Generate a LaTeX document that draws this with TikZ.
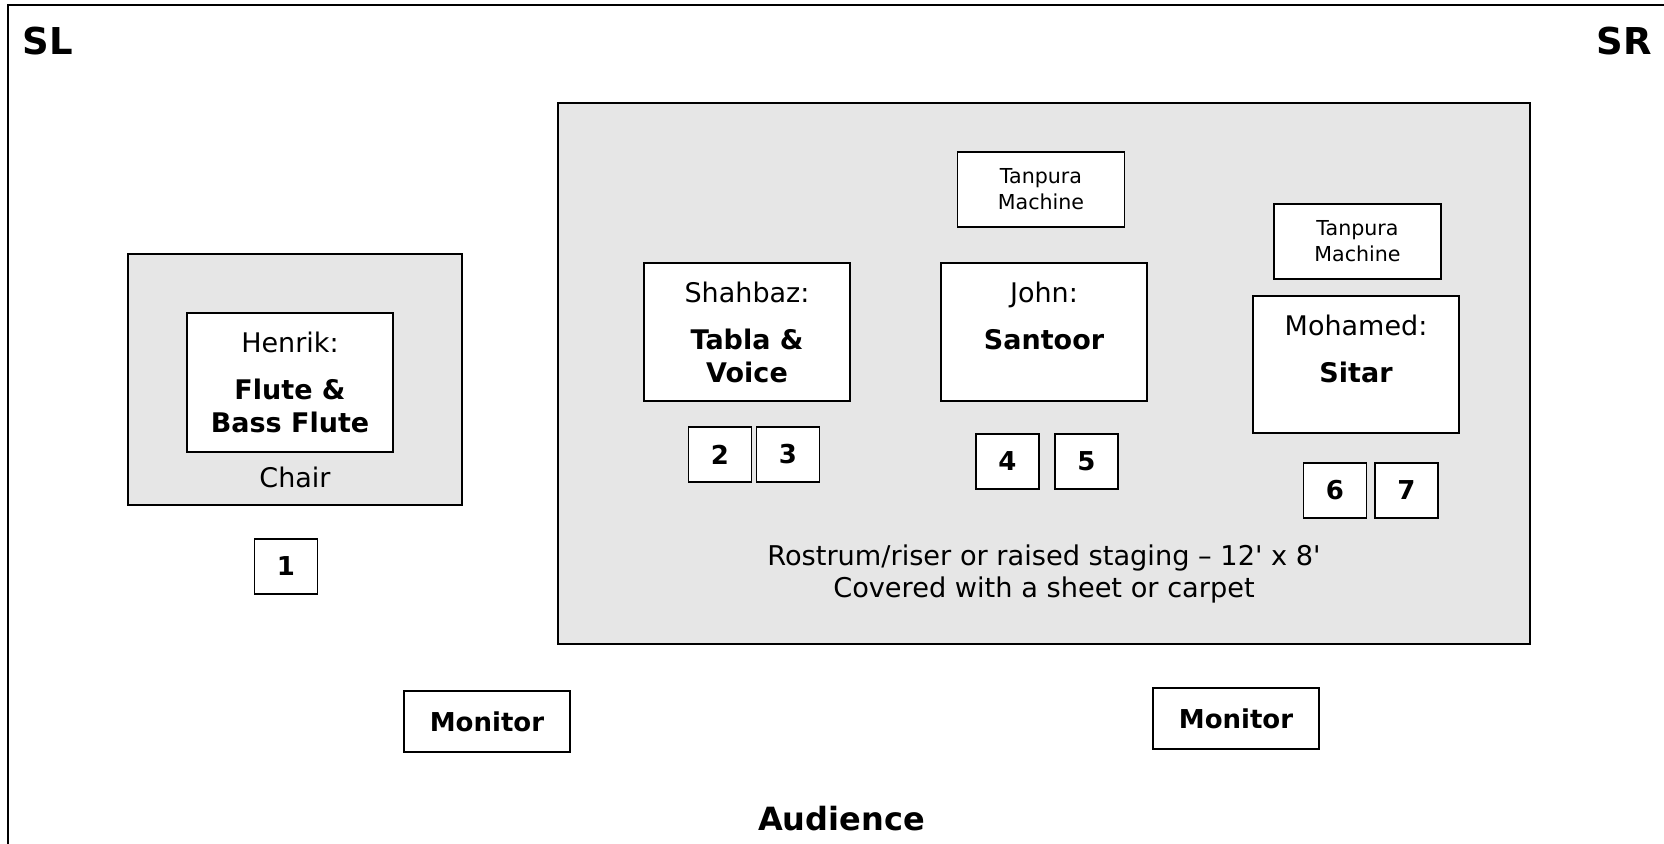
\documentclass[tikz,border=0pt]{standalone}
\usepackage{fontspec}
\setmainfont{DejaVu Sans}
\usetikzlibrary{positioning}
\definecolor{stagegray}{HTML}{E6E6E6}
\tikzset{platform/.style={draw, fill=stagegray, line width=0.6pt, inner sep=0pt}}
\tikzset{seat/.style={draw, fill=white, line width=0.6pt, inner sep=0pt}}
\tikzset{mic/.style={seat, minimum width=31.5pt, minimum height=27.5pt, font=\fontsize{13}{15}\selectfont\bfseries}}
\tikzset{tanpura/.style={seat, minimum width=83.5pt, minimum height=37.5pt, align=center, font=\fontsize{10.3}{13}\selectfont}}
\tikzset{monitor/.style={seat, minimum width=83pt, minimum height=30.5pt, font=\fontsize{13}{16}\selectfont\bfseries}}
\tikzset{who/.style={inner sep=0pt, align=center, font=\fontsize{13.5}{16.5}\selectfont}}
\tikzset{side/.style={inner sep=0pt, font=\fontsize{18.5}{22}\selectfont\bfseries}}

\begin{document}
\begin{tikzpicture}[x=0.5pt, y=-0.5pt]
			\useasboundingbox (0,0) rectangle (1664,844);
			\draw[line width=0.6pt] (1664,5) -- (8,5) -- (8,844);
			\node[side, anchor=base west] (sl) at (22,55) {SL};
			\node[side, anchor=base east] (sr) at (1652,55) {SR};
			%
			% riser and chair
			\node[platform, minimum width=486pt, minimum height=270.5pt] (stage) at (1044,373.5) {};
			\node[platform, minimum width=167pt, minimum height=125.5pt] (chair) at (295,379.5) {};
			\node[who, anchor=base] (chairlbl) at (295,487) {Chair};
			\node[who, anchor=north, font=\fontsize{13.6}{16}\selectfont] (stagelbl) at (1044,544)
				{Rostrum/riser or raised staging -- 12\textquotesingle{} x 8\textquotesingle\\Covered with a sheet or carpet};
			%
			% players
			\node[seat, minimum width=103pt, minimum height=69.5pt] (henrik) at (290,382.5) {};
			\node[who, below=9.5pt of henrik.north] (henriklbl) {Henrik:\\[7pt]\textbf{Flute \&}\\\textbf{Bass Flute}};
			\node[seat, minimum width=103pt, minimum height=69pt] (shahbaz) at (747,332) {};
			\node[who, below=9.5pt of shahbaz.north] (shahbazlbl) {Shahbaz:\\[7pt]\textbf{Tabla \&}\\\textbf{Voice}};
			\node[seat, minimum width=103pt, minimum height=69pt] (john) at (1044,332) {};
			\node[who, below=9.5pt of john.north] (johnlbl) {John:\\[7pt]\textbf{Santoor}};
			\node[seat, minimum width=103pt, minimum height=68.5pt] (mohamed) at (1356,364.5) {};
			\node[who, below=9.5pt of mohamed.north] (mohamedlbl) {Mohamed:\\[7pt]\textbf{Sitar}};
			%
			\node[tanpura] (tanpuraA) at (1041,189.5) {Tanpura\\Machine};
			\node[tanpura] (tanpuraB) at (1357.5,241.5) {Tanpura\\Machine};
			%
			% mics
			\node[mic] (mic1) at (286,566.5) {1};
			\node[mic] (mic2) at (720,454.5) {2};
			\node[mic] (mic3) at (788,454.5) {3};
			\node[mic] (mic4) at (1007.5,461.5) {4};
			\node[mic] (mic5) at (1086.5,461.5) {5};
			\node[mic] (mic6) at (1335,490.5) {6};
			\node[mic] (mic7) at (1406.5,490.5) {7};
			%
			\node[monitor] (monA) at (487,721.5) {Monitor};
			\node[monitor] (monB) at (1236,718.5) {Monitor};
			\node[inner sep=0pt, anchor=base, font=\fontsize{16}{19}\selectfont\bfseries] (audience) at (841.5,830) {Audience};
		\end{tikzpicture}
\end{document}
